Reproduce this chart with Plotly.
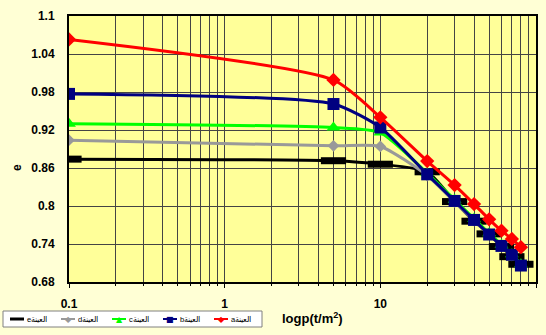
import plotly.graph_objects as go

x_pressure = [0.1, 5, 10, 20, 30, 40, 50, 60, 70, 80]
e_a = [1.063, 0.999, 0.940, 0.871, 0.833, 0.803, 0.779, 0.761, 0.748, 0.735]
e_b = [0.977, 0.961, 0.924, 0.850, 0.808, 0.778, 0.755, 0.737, 0.723, 0.706]
e_c = [0.930, 0.924, 0.916, 0.852, 0.810, 0.780, 0.757, 0.739, 0.724, 0.708]
e_d = [0.904, 0.895, 0.894, 0.848, 0.806, 0.777, 0.755, 0.737, 0.722, 0.707]
e_e = [0.874, 0.8715, 0.866, 0.854, 0.807, 0.776, 0.756, 0.736, 0.720, 0.708]

names = ["eالعينة", "dالعينة", "cالعينة", "bالعينة", "aالعينة"]
y_ticks = [0.68, 0.74, 0.8, 0.86, 0.92, 0.98, 1.04, 1.1]
x_ticks = [0.1, 1, 10, 100]

# plot area in pixels (for converting overlay positions to paper coords)
W, H = 546, 335
L, R, T, B = 69, 10, 16, 53
PW, PH = W - L - R, H - T - B


def px(xp):
    return (xp - L) / PW


def py(yp):
    return (H - B - yp) / PH


series = [
    (names[0], e_e, "#000000", dict(symbol="line-ew", size=18, line=dict(width=7, color="#000000")), ""),
    (names[1], e_d, "#999999", dict(symbol="diamond", size=9), "◆"),
    (names[2], e_c, "#00FF00", dict(symbol="triangle-up", size=12), "▲"),
    (names[3], e_b, "#000080", dict(symbol="square", size=12), "■"),
    (names[4], e_a, "#FF0000", dict(symbol="diamond", size=11), "◆"),
]

fig = go.Figure()
for name, ys, color, mk, _ in series:
    mk = dict(mk)
    mk.setdefault("color", color)
    fig.add_trace(go.Scatter(
        x=x_pressure, y=ys, name=name, mode="lines+markers",
        line=dict(color=color, width=3, shape="spline", smoothing=0.6),
        marker=mk, showlegend=False,
    ))

axis_font = dict(family="Liberation Sans, Arial", size=12, color="#000000", weight="bold")

# legend drawn as a boxed row below the plot
shapes = [dict(type="rect", xref="paper", yref="paper", x0=px(3), x1=px(262), y0=py(311), y1=py(327),
               fillcolor="#FFFFFF", line=dict(color="#808080", width=1), layer="above")]
annotations = []
ly = 319
for i, (name, ys, color, mk, glyph) in enumerate(series):
    sx = 10 + 51 * i
    shapes.append(dict(type="line", xref="paper", yref="paper", x0=px(sx), x1=px(sx + 14), y0=py(ly), y1=py(ly),
                       line=dict(color=color, width=3 if i == 0 else 2), layer="above"))
    if glyph:
        annotations.append(dict(text=glyph, xref="paper", yref="paper", x=px(sx + 7), y=py(ly),
                                showarrow=False, xanchor="center", yanchor="middle",
                                font=dict(family="DejaVu Sans", size=8, color=color)))
    annotations.append(dict(text=name, xref="paper", yref="paper", x=px(sx + 15), y=py(ly),
                            showarrow=False, xanchor="left", yanchor="middle",
                            font=dict(family="Liberation Sans, Arial", size=7.5, color="#000000")))

annotations += [
    dict(text="logp(t/m<sup>2</sup>)", xref="paper", yref="paper", x=px(312), y=py(318),
         showarrow=False, xanchor="center", yanchor="middle",
         font=dict(family="Liberation Sans, Arial", size=13, color="#000000", weight="bold")),
    dict(text="e", xref="paper", yref="paper", x=px(17), y=py(168),
         showarrow=False, textangle=-90, xanchor="center", yanchor="middle",
         font=dict(family="Liberation Sans, Arial", size=12, color="#000000", weight="bold")),
]

fig.update_layout(
    width=W, height=H,
    margin=dict(l=L, r=R, t=T, b=B),
    paper_bgcolor="#FFFFD5",
    plot_bgcolor="#FFFF99",
    showlegend=False,
    xaxis=dict(
        type="log", range=[-1, 2], tickvals=x_ticks, ticktext=["0.1", "1", "10", "100"],
        tickfont=axis_font, ticks="outside", ticklen=4, tickcolor="#000000",
        ticklabelstandoff=6, automargin=False,
        showgrid=True, gridcolor="#444444", gridwidth=1,
        minor=dict(showgrid=True, gridcolor="#444444", gridwidth=1, ticks="outside", ticklen=2,
                   tickcolor="#000000", dtick="D1"),
        showline=True, linecolor="#000000", linewidth=2, mirror=True,
        zeroline=False,
    ),
    yaxis=dict(
        range=[0.68, 1.1], tickvals=y_ticks,
        ticktext=["0.68", "0.74", "0.8", "0.86", "0.92", "0.98", "1.04", "1.1"],
        tickfont=axis_font, ticks="", ticklabelstandoff=10, automargin=False,
        showgrid=True, gridcolor="#444444", gridwidth=1,
        showline=True, linecolor="#000000", linewidth=2, mirror=True,
        zeroline=False,
    ),
    shapes=shapes,
    annotations=annotations,
)

fig.write_html("out.html", config={"displayModeBar": False},
               post_script="document.body.style.margin='0';document.body.style.overflow='hidden';")
